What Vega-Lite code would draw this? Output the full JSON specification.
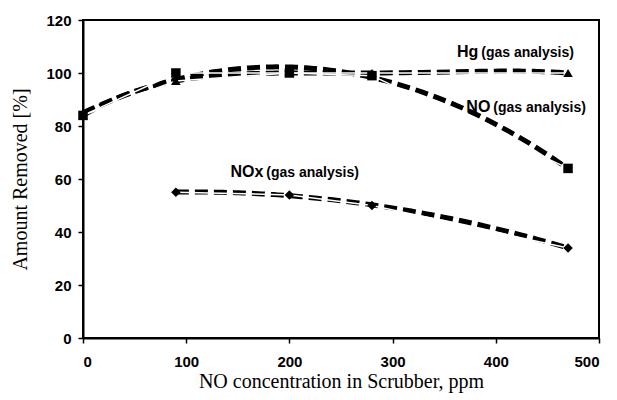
{
  "$schema": "https://vega.github.io/schema/vega-lite/v6.json",
  "width": 516,
  "height": 318,
  "autosize": {"type": "none"},
  "padding": {"left": 83, "top": 20, "right": 18, "bottom": 62},
  "background": "white",
  "config": {
    "view": {"stroke": "black", "strokeWidth": 2},
    "axis": {"grid": false, "domainColor": "black", "domainWidth": 2, "tickColor": "black", "tickWidth": 1.5, "tickSize": 5,
      "labelFont": "Liberation Sans", "labelFontWeight": "bold", "labelFontSize": 15, "labelColor": "black",
      "titleFont": "Liberation Serif", "titleFontWeight": "normal", "titleFontSize": 20, "titleColor": "black"}
  },
  "datasets": {
    "pts": [
      {"series": "Hg", "x": 0, "y": 84},
      {"series": "Hg", "x": 90, "y": 97},
      {"series": "Hg", "x": 200, "y": 100},
      {"series": "Hg", "x": 280, "y": 100},
      {"series": "Hg", "x": 470, "y": 100},
      {"series": "NO", "x": 0, "y": 84},
      {"series": "NO", "x": 90, "y": 100},
      {"series": "NO", "x": 200, "y": 100},
      {"series": "NO", "x": 280, "y": 99},
      {"series": "NO", "x": 470, "y": 64},
      {"series": "NOx", "x": 90, "y": 55},
      {"series": "NOx", "x": 200, "y": 54},
      {"series": "NOx", "x": 280, "y": 50},
      {"series": "NOx", "x": 470, "y": 34}
    ],
    "labels": [
      {"main": "Hg", "x": 383, "y": 108},
      {"main": "NO", "x": 394.7, "y": 87.3},
      {"main": "NOx", "x": 174.7, "y": 62.8}
    ]
  },
  "layer": [
    {
      "data": {"name": "pts"},
      "transform": [{"filter": "datum.series === 'Hg'"}, {"regression": "y", "on": "x", "method": "poly", "order": 4}],
      "mark": {"type": "line", "color": "black", "strokeWidth": 5, "strokeDash": [13, 6]},
      "encoding": {
        "x": {"field": "x", "type": "quantitative", "scale": {"domain": [0, 500]}, "axis": {"values": [0, 100, 200, 300, 400, 500], "title": "NO concentration in Scrubber, ppm", "labelPadding": 11, "titlePadding": 2}},
        "y": {"field": "y", "type": "quantitative", "scale": {"domain": [0, 120]}, "axis": {"values": [0, 20, 40, 60, 80, 100, 120], "title": "Amount Removed [%]", "labelPadding": 7, "titlePadding": 15}}
      }
    },
    {
      "data": {"name": "pts"},
      "transform": [{"filter": "datum.series === 'NO'"}, {"regression": "y", "on": "x", "method": "poly", "order": 2}],
      "mark": {"type": "line", "color": "black", "strokeWidth": 5, "strokeDash": [13, 6]},
      "encoding": {"x": {"field": "x", "type": "quantitative"}, "y": {"field": "y", "type": "quantitative"}}
    },
    {
      "data": {"name": "pts"},
      "transform": [{"filter": "datum.series === 'NOx'"}, {"regression": "y", "on": "x", "method": "poly", "order": 2}],
      "mark": {"type": "line", "color": "black", "strokeWidth": 5, "strokeDash": [13, 6]},
      "encoding": {"x": {"field": "x", "type": "quantitative"}, "y": {"field": "y", "type": "quantitative"}}
    },
    {
      "data": {"name": "pts"},
      "mark": {"type": "line", "color": "white", "strokeWidth": 1.5},
      "encoding": {
        "x": {"field": "x", "type": "quantitative"},
        "y": {"field": "y", "type": "quantitative"},
        "detail": {"field": "series"}
      }
    },
    {
      "data": {"name": "pts"},
      "mark": {"type": "point", "filled": true, "color": "black", "opacity": 1, "size": 90},
      "encoding": {
        "x": {"field": "x", "type": "quantitative"},
        "y": {"field": "y", "type": "quantitative"},
        "shape": {"field": "series", "type": "nominal", "scale": {"domain": ["Hg", "NO", "NOx"], "range": ["triangle-up", "square", "diamond"]}, "legend": null}
      }
    },
    {
      "data": {"name": "labels"},
      "mark": {"type": "text", "align": "right", "baseline": "middle", "font": "Liberation Sans", "fontWeight": "bold", "fontSize": 16, "color": "black"},
      "encoding": {"x": {"field": "x", "type": "quantitative"}, "y": {"field": "y", "type": "quantitative"}, "text": {"field": "main"}}
    },
    {
      "data": {"name": "labels"},
      "mark": {"type": "text", "align": "left", "baseline": "middle", "dx": 3, "dy": 1, "font": "Liberation Sans", "fontWeight": "bold", "fontSize": 14, "color": "black", "text": "(gas analysis)"},
      "encoding": {"x": {"field": "x", "type": "quantitative"}, "y": {"field": "y", "type": "quantitative"}}
    }
  ]
}
